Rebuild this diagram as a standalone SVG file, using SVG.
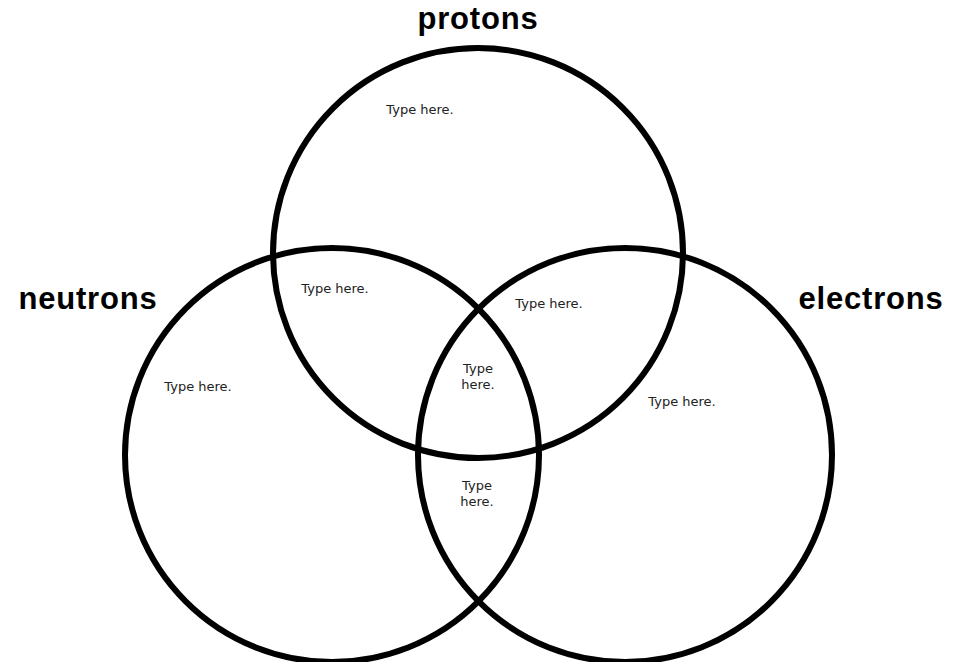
<svg xmlns="http://www.w3.org/2000/svg" width="965" height="662" viewBox="0 0 965 662">
<style>
.c{fill:none;stroke:#000;stroke-width:6}
.t{font-family:"Liberation Sans",Arial,sans-serif;font-weight:bold;font-size:31px;fill:#000;text-anchor:middle;letter-spacing:0.8px}
.s{font-family:"DejaVu Sans","Liberation Sans",sans-serif;font-size:13px;fill:#222;text-anchor:middle}
</style>
<rect width="965" height="662" fill="#fff"/>
<g id="circle-protons"><circle class="c" cx="478" cy="253" r="205"/></g>
<g id="circle-neutrons"><circle class="c" cx="332" cy="455" r="207"/></g>
<g id="circle-electrons"><circle class="c" cx="625" cy="455" r="207"/></g>
<g id="labels">
<text class="t" x="478" y="29">protons</text>
<text class="t" x="88" y="309">neutrons</text>
<text class="t" x="871" y="309">electrons</text>
</g>
<g id="regions">
<text class="s" x="420" y="114">Type here.</text>
<text class="s" x="335" y="293">Type here.</text>
<text class="s" x="549" y="308">Type here.</text>
<text class="s" x="198" y="391">Type here.</text>
<text class="s" x="682" y="406">Type here.</text>
<text class="s" x="478" y="373">Type</text>
<text class="s" x="478" y="389">here.</text>
<text class="s" x="477" y="490">Type</text>
<text class="s" x="477" y="506">here.</text>
</g>
</svg>
